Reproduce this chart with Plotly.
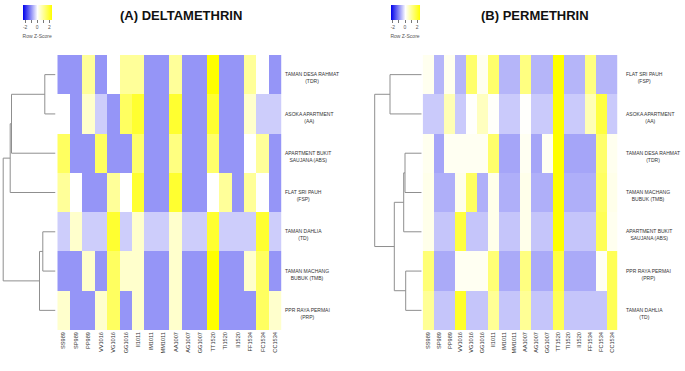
import plotly.graph_objects as go

W, H = 685, 371

columns = ["SS989", "SP989", "PP989", "VV1016", "VG1016", "GG1016", "II1011",
           "IM1011", "MM1011", "AA1007", "AG1007", "GG1007", "TT1520", "TI1520",
           "II1520", "FF1534", "FC1534", "CC1534"]

rows_delta = ["TAMAN DESA RAHMAT<br>(TDR)", "ASOKA APARTMENT<br>(AA)",
              "APARTMENT BUKIT<br>SAUJANA (ABS)", "FLAT SRI PAUH<br>(FSP)",
              "TAMAN DAHLIA<br>(TD)", "TAMAN MACHANG<br>BUBUK (TMB)",
              "PPR RAYA PERMAI<br>(PRP)"]

rows_perm = ["FLAT SRI PAUH<br>(FSP)", "ASOKA APARTMENT<br>(AA)",
             "TAMAN DESA RAHMAT<br>(TDR)", "TAMAN MACHANG<br>BUBUK (TMB)",
             "APARTMENT BUKIT<br>SAUJANA (ABS)", "PPR RAYA PERMAI<br>(PRP)",
             "TAMAN DAHLIA<br>(TD)"]

# Row Z-scores (estimated from colours)
z_delta = [
    [-1.0, -1.0, 0.96, -1.0, 0.0, 0.96, 0.96, -1.0, -1.0, 0.96, -1.0, -1.0, 2.4, -1.0, -1.0, 0.96, 0.0, -1.0],
    [0.0, -1.0, 0.48, -0.47, -1.0, 1.5, 1.95, -1.0, -1.0, 1.95, -1.0, -1.0, 1.95, -1.0, -1.0, 0.48, -0.47, -0.47],
    [1.5, -1.0, -1.0, 1.5, -1.0, -1.0, 1.4, -1.0, -1.0, 1.2, -1.0, -1.0, 1.4, -1.0, -1.0, 0.0, 0.96, -1.0],
    [0.96, 0.0, -1.0, -1.0, 0.96, 0.0, 1.95, -1.0, -1.0, 1.95, -1.0, -1.0, 0.0, 0.96, -1.0, 0.96, 0.0, -1.0],
    [-0.47, 0.48, -0.47, -0.47, 1.95, -0.47, 0.48, -0.47, -0.47, 0.48, -0.47, -0.47, 1.95, -0.47, -0.47, -0.47, 1.95, -0.47],
    [-1.0, -1.0, 0.48, -1.0, 1.5, 0.48, 0.48, -1.0, -1.0, 0.48, -1.0, -1.0, 2.4, -1.0, -1.0, 0.48, 1.5, -1.0],
    [0.48, -1.0, -1.0, 0.48, 1.5, -1.0, 0.48, -1.0, -1.0, 0.48, -1.0, -1.0, 2.4, -1.0, -1.0, -1.0, 1.5, 0.48],
]

z_perm = [
    [0.15, -0.7, 0.15, -0.7, 1.4, 0.15, 1.4, -0.7, -0.7, 1.2, -0.7, -0.7, 2.4, -0.7, -0.7, 1.2, -0.7, -0.7],
    [-0.5, -0.5, 0.7, -0.5, 0.03, 0.6, 0.05, -0.5, -0.5, 0.03, -0.5, -0.5, 2.4, -0.5, -0.5, 0.7, 1.8, -0.5],
    [0.15, -0.85, 0.12, 0.12, 0.12, 0.12, 1.4, -0.85, -0.85, 0.12, -0.85, 0.12, 2.4, -0.85, -0.85, -0.85, 1.4, 0.15],
    [0.2, -0.75, -0.75, 0.2, 1.5, -0.75, 0.2, -0.75, -0.75, 0.2, -0.75, -0.75, 2.4, -0.75, -0.75, -0.75, 1.5, 0.2],
    [0.2, -0.55, -0.55, 1.8, -0.55, -0.55, 0.2, -0.55, -0.55, 0.2, -0.55, -0.55, 2.4, -0.55, -0.55, -0.55, 1.6, 0.15],
    [1.3, -0.8, -0.8, 0.12, 0.12, 0.12, 1.3, -0.8, -0.8, 1.2, -0.8, -0.8, 1.8, -0.8, -0.8, -0.8, 0.1, 1.6],
    [1.0, -0.55, -0.55, 2.0, -0.55, -0.55, 1.0, -0.55, -0.55, 1.0, -0.55, -0.55, 1.6, -0.55, -0.55, -0.55, -0.55, 1.6],
]

# Dendrogram merges: (child a, child b, height); leaves 0..6, merged nodes 7..
dend_delta = [(0, 1, 10.7), (7, 2, 44.0), (8, 3, 45.3), (4, 5, 12.7), (10, 6, 16.0), (9, 11, 52.3)]
dend_perm = [(0, 1, 31.7), (2, 3, 16.7), (8, 4, 18.0), (5, 6, 16.0), (9, 10, 27.4), (7, 11, 47.0)]

colorscale = [[0.0, "rgb(0,0,235)"], [0.5, "rgb(255,255,255)"], [1.0, "rgb(255,255,0)"]]
ZMIN, ZMAX = -2.4, 2.4


def dendro_lines(merges, n):
    pos = {i: float(i) for i in range(n)}
    hgt = {i: 0.0 for i in range(n)}
    xs, ys = [], []
    for k, (a, b, h) in enumerate(merges):
        node = n + k
        xs += [hgt[a], h, h, hgt[b], None]
        ys += [pos[a], pos[a], pos[b], pos[b], None]
        pos[node] = (pos[a] + pos[b]) / 2
        hgt[node] = h
    return xs, ys


def px(x):
    return x / W


def py(y):
    return 1 - y / H


def cbar(xc):
    return dict(orientation="h", x=px(xc), xanchor="center", y=py(5), yanchor="top",
                len=29, lenmode="pixels", thickness=15, thicknessmode="pixels",
                xpad=0, ypad=0, outlinewidth=0,
                tickmode="array", tickvals=[-2, -1, 0, 1, 2], ticktext=["-2", "", "0", "", "2"],
                ticks="outside", ticklen=3, tickcolor="#777", tickwidth=0.6,
                tickfont=dict(size=5, color="#555", family="Liberation Sans"),
                title=dict(text="Row Z-Score", side="bottom",
                           font=dict(size=5, color="#555", family="Liberation Sans")))


fig = go.Figure()

nrow = len(rows_delta)
fig.add_trace(go.Heatmap(z=z_delta, x=list(range(len(columns))), y=list(range(nrow)),
                         colorscale=colorscale, zmin=ZMIN, zmax=ZMAX,
                         colorbar=cbar(37.2), xaxis="x", yaxis="y", hoverinfo="skip"))
fig.add_trace(go.Heatmap(z=z_perm, x=list(range(len(columns))), y=list(range(nrow)),
                         colorscale=colorscale, zmin=ZMIN, zmax=ZMAX,
                         colorbar=cbar(405), xaxis="x3", yaxis="y3", hoverinfo="skip"))

dx, dy = dendro_lines(dend_delta, nrow)
fig.add_trace(go.Scatter(x=dx, y=dy, mode="lines", line=dict(color="#8f8f8f", width=1),
                         xaxis="x2", yaxis="y", showlegend=False, hoverinfo="skip"))
dx, dy = dendro_lines(dend_perm, nrow)
fig.add_trace(go.Scatter(x=dx, y=dy, mode="lines", line=dict(color="#8f8f8f", width=1),
                         xaxis="x4", yaxis="y3", showlegend=False, hoverinfo="skip"))

y_dom = [py(330), py(55)]
label_font = dict(size=5.6, color="#333", family="Liberation Sans")
common_x = dict(showgrid=False, zeroline=False, showline=False, ticks="", automargin=False,
                tickmode="array", tickvals=list(range(len(columns))), ticktext=columns,
                tickangle=-90, tickfont=label_font, range=[-0.5, len(columns) - 0.5])
common_y = dict(showgrid=False, zeroline=False, showline=False, showticklabels=False, ticks="",
                range=[nrow - 0.5, -0.5], domain=y_dom, automargin=False)
dendro_x = dict(showgrid=False, zeroline=False, showline=False, showticklabels=False, ticks="",
                automargin=False)

fig.update_layout(
    width=W, height=H, margin=dict(l=0, r=0, t=0, b=0, autoexpand=False),
    paper_bgcolor="white", plot_bgcolor="white", showlegend=False,
    xaxis=dict(domain=[px(57.3), px(281.7)], anchor="y", **common_x),
    yaxis=dict(anchor="x", **common_y),
    xaxis2=dict(domain=[0, px(55.5)], range=[55.5, 0], anchor="y", **dendro_x),
    xaxis3=dict(domain=[px(422.7), px(617.3)], anchor="y3", **common_x),
    yaxis3=dict(anchor="x3", **common_y),
    xaxis4=dict(domain=[px(365), px(421.7)], range=[56.7, 0], anchor="y3", **dendro_x),
)

row_font = dict(size=5, color="#333", family="Liberation Sans")
ann = []
for i, lab in enumerate(rows_delta):
    ann.append(dict(text=lab, xref="x domain", yref="y", x=1, y=i, xanchor="left", yanchor="middle",
                    xshift=1, yshift=-3.2, align="center", showarrow=False, font=row_font))
for i, lab in enumerate(rows_perm):
    ann.append(dict(text=lab, xref="x3 domain", yref="y3", x=1, y=i, xanchor="left", yanchor="middle",
                    xshift=7, yshift=-3.2, align="center", showarrow=False, font=row_font))
title_font = dict(size=13, color="#111", family="Liberation Sans")
ann.append(dict(text="<b>(A) DELTAMETHRIN</b>", xref="paper", yref="paper", x=px(181), y=py(16),
                xanchor="center", yanchor="middle", showarrow=False, font=title_font))
ann.append(dict(text="<b>(B) PERMETHRIN</b>", xref="paper", yref="paper", x=px(535), y=py(16),
                xanchor="center", yanchor="middle", showarrow=False, font=title_font))
fig.update_layout(annotations=ann)

fig.write_html("out.html",
               config={"displayModeBar": False},
               post_script="document.body.style.margin='0px';document.body.style.overflow='hidden';")
